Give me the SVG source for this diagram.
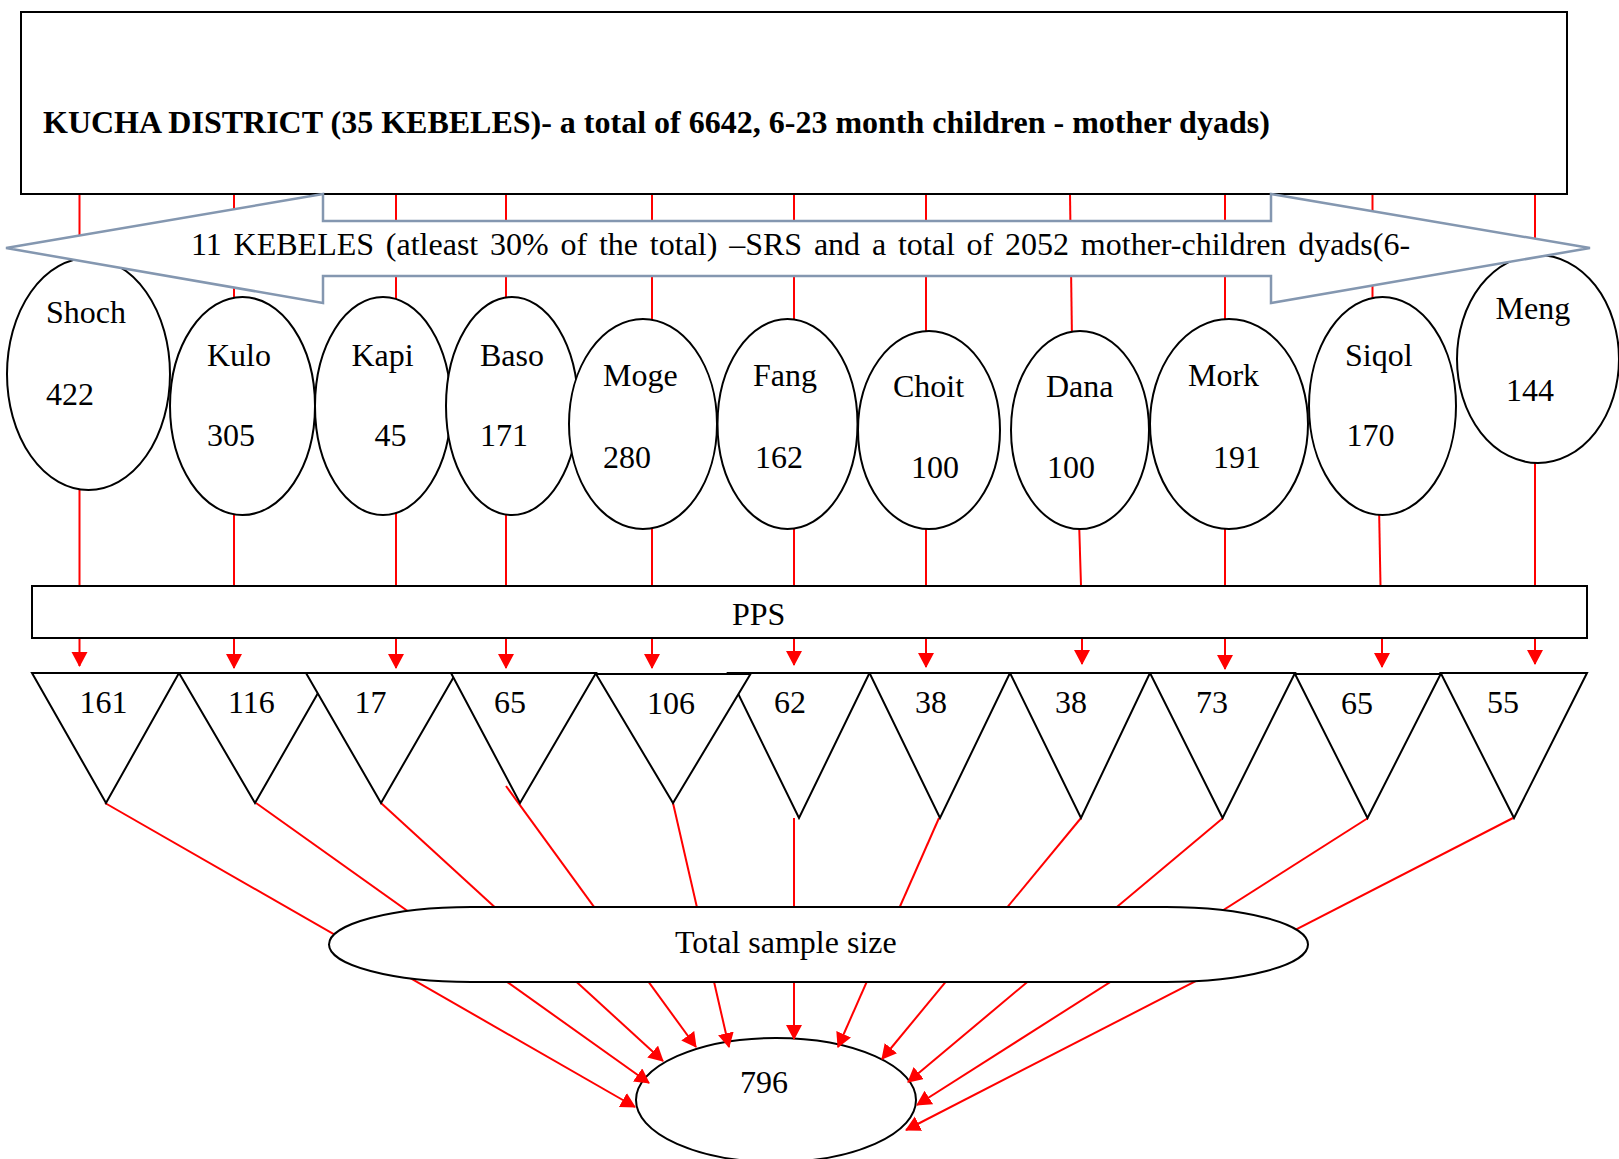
<svg xmlns="http://www.w3.org/2000/svg" width="1619" height="1159" viewBox="0 0 1619 1159">
<style>
.n{fill:#fff;stroke:#000;stroke-width:2}
.r{stroke:#f00;stroke-width:2;fill:none}
.a{marker-end:url(#ah)}
.t{font-family:"Liberation Serif","Times New Roman",serif;font-size:32px;fill:#000}
.b{font-weight:bold}
.big{fill:#fff;stroke:#8497B0;stroke-width:2.5}
</style>
<defs>
<marker id="ah" markerUnits="userSpaceOnUse" markerWidth="18" markerHeight="18" refX="14" refY="8" orient="auto">
<path d="M0,0 L15,8 L0,16 Z" fill="#f00"/>
</marker>
</defs>
<g id="n796"><ellipse class="n" cx="776" cy="1100" rx="140" ry="62"/><text class="t" x="740" y="1093">796</text></g>
<g id="connectors">
<line class="r" x1="79.5" y1="194" x2="79.5" y2="586"/>
<line class="r" x1="234" y1="194" x2="234" y2="586"/>
<line class="r" x1="396" y1="194" x2="396" y2="586"/>
<line class="r" x1="506" y1="194" x2="506" y2="586"/>
<line class="r" x1="652" y1="194" x2="652" y2="586"/>
<line class="r" x1="794" y1="194" x2="794" y2="586"/>
<line class="r" x1="926" y1="194" x2="926" y2="586"/>
<line class="r" x1="1070" y1="194" x2="1072" y2="340"/>
<line class="r" x1="1079" y1="520" x2="1081" y2="586"/>
<line class="r" x1="1225" y1="194" x2="1225" y2="586"/>
<line class="r" x1="1372.5" y1="194" x2="1372.5" y2="305"/>
<line class="r" x1="1379" y1="505" x2="1380.5" y2="586"/>
<line class="r" x1="1535" y1="194" x2="1535" y2="586"/>
<line class="r a" x1="79.5" y1="638" x2="79.5" y2="666"/>
<line class="r a" x1="234" y1="638" x2="234" y2="668"/>
<line class="r a" x1="396" y1="638" x2="396" y2="668"/>
<line class="r a" x1="506" y1="638" x2="506" y2="668"/>
<line class="r a" x1="652" y1="638" x2="652" y2="668"/>
<line class="r a" x1="794" y1="638" x2="794" y2="665"/>
<line class="r a" x1="926" y1="638" x2="926" y2="667"/>
<line class="r a" x1="1082" y1="638" x2="1082" y2="664"/>
<line class="r a" x1="1225" y1="638" x2="1225" y2="669"/>
<line class="r a" x1="1382" y1="638" x2="1382" y2="667"/>
<line class="r a" x1="1535" y1="638" x2="1535" y2="664"/>
<line class="r a" x1="105" y1="803" x2="635" y2="1107"/>
<line class="r a" x1="256" y1="803" x2="649" y2="1083"/>
<line class="r a" x1="381" y1="803" x2="663" y2="1061"/>
<line class="r a" x1="506" y1="786" x2="696" y2="1047"/>
<line class="r a" x1="673" y1="803" x2="729" y2="1047"/>
<line class="r a" x1="794" y1="818" x2="794" y2="1039"/>
<line class="r a" x1="939" y1="818" x2="838" y2="1047"/>
<line class="r a" x1="1081" y1="818" x2="882" y2="1059"/>
<line class="r a" x1="1223" y1="818" x2="908" y2="1082"/>
<line class="r a" x1="1368" y1="818" x2="917" y2="1105"/>
<line class="r a" x1="1513" y1="818" x2="906" y2="1130"/>
</g>
<g id="district"><rect class="n" x="21" y="12" width="1546" height="182"/><text class="t b" x="43" y="133">KUCHA DISTRICT (35 KEBELES)- a total of 6642, 6-23 month children - mother dyads)</text></g>
<g id="shoch"><ellipse class="n" cx="88.5" cy="374" rx="81.5" ry="116"/><text class="t" x="46" y="323">Shoch</text><text class="t" x="46" y="405">422</text></g>
<g id="kulo"><ellipse class="n" cx="242.5" cy="406" rx="72.5" ry="109"/><text class="t" x="207" y="366">Kulo</text><text class="t" x="207" y="446">305</text></g>
<g id="kapi"><ellipse class="n" cx="383" cy="406" rx="68" ry="109"/><text class="t" x="351.5" y="366">Kapi</text><text class="t" x="374.5" y="446">45</text></g>
<g id="baso"><ellipse class="n" cx="512" cy="406" rx="66" ry="109"/><text class="t" x="480" y="366">Baso</text><text class="t" x="480" y="446">171</text></g>
<g id="moge"><ellipse class="n" cx="643" cy="424" rx="74" ry="105"/><text class="t" x="603" y="386">Moge</text><text class="t" x="603" y="468">280</text></g>
<g id="fang"><ellipse class="n" cx="787.5" cy="424" rx="70" ry="105"/><text class="t" x="753" y="386">Fang</text><text class="t" x="755" y="468">162</text></g>
<g id="choit"><ellipse class="n" cx="929" cy="430" rx="71" ry="99"/><text class="t" x="893" y="397">Choit</text><text class="t" x="911" y="478">100</text></g>
<g id="dana"><ellipse class="n" cx="1080" cy="430" rx="69" ry="99"/><text class="t" x="1046" y="397">Dana</text><text class="t" x="1047" y="478">100</text></g>
<g id="mork"><ellipse class="n" cx="1229" cy="424" rx="79" ry="105"/><text class="t" x="1188" y="386">Mork</text><text class="t" x="1213" y="468">191</text></g>
<g id="siqol"><ellipse class="n" cx="1382.5" cy="406" rx="73.5" ry="109"/><text class="t" x="1345" y="366">Siqol</text><text class="t" x="1346.5" y="446">170</text></g>
<g id="meng"><ellipse class="n" cx="1538" cy="359" rx="81" ry="104"/><text class="t" x="1495.6" y="319">Meng</text><text class="t" x="1506" y="401">144</text></g>
<g id="srs"><polygon class="big" points="6,248 323,194 323,221 1271,221 1271,194 1590,248 1271,303 1271,276 323,276 323,303"/><text class="t" x="191" y="255" word-spacing="3.8">11 KEBELES (atleast 30% of the total) –SRS and a total of 2052 mother-children dyads(6-</text></g>
<g id="pps"><rect class="n" x="32" y="586" width="1555" height="52"/><text class="t" x="732" y="625">PPS</text></g>
<g id="t1"><polygon class="n" points="32,673 179,673 106,803"/><text class="t" x="79.5" y="713">161</text></g>
<g id="t2"><polygon class="n" points="179,673 329.5,673 255,803"/><text class="t" x="228" y="713">116</text></g>
<g id="t3"><polygon class="n" points="306,673 456,673 381,803"/><text class="t" x="354.6" y="713">17</text></g>
<g id="t4"><polygon class="n" points="451,673 596,673 520,803"/><text class="t" x="494" y="713">65</text></g>
<g id="t6"><polygon class="n" points="728,673 869.5,673 799,818"/><text class="t" x="774" y="713">62</text></g>
<g id="t5"><polygon class="n" points="596,674 750.5,674 673,803"/><text class="t" x="647" y="714">106</text></g>
<g id="t7"><polygon class="n" points="869.5,673 1010,673 940,818"/><text class="t" x="915" y="713">38</text></g>
<g id="t8"><polygon class="n" points="1010,673 1150,673 1081,818"/><text class="t" x="1055" y="713">38</text></g>
<g id="t9"><polygon class="n" points="1150,673 1295,673 1222.6,818"/><text class="t" x="1196" y="713">73</text></g>
<g id="t10"><polygon class="n" points="1295,674 1440.7,674 1367.5,818"/><text class="t" x="1341" y="714">65</text></g>
<g id="t11"><polygon class="n" points="1440.7,673 1587,673 1514,818"/><text class="t" x="1487" y="713">55</text></g>
<g id="total"><path class="n" d="M471,907 H1166 A142,37.5 0 0 1 1166,982 H471 A142,37.5 0 0 1 471,907 Z"/><text class="t" x="675" y="953">Total sample size</text></g>
</svg>
